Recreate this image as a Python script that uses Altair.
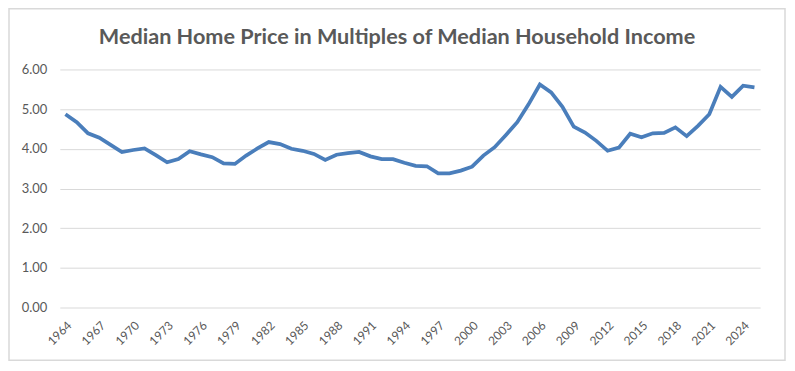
import altair as alt
import pandas as pd

years = list(range(1964, 2026))
ratios = [4.87, 4.67, 4.39, 4.28, 4.10, 3.92, 3.97, 4.01, 3.84, 3.66,
          3.74, 3.94, 3.86, 3.79, 3.63, 3.62, 3.83, 4.01, 4.17, 4.12,
          4.00, 3.95, 3.87, 3.72, 3.85, 3.89, 3.92, 3.81, 3.74, 3.74,
          3.65, 3.57, 3.56, 3.38, 3.38, 3.45, 3.55, 3.83, 4.04, 4.35,
          4.67, 5.12, 5.62, 5.42, 5.06, 4.56, 4.41, 4.20, 3.95, 4.03,
          4.38, 4.29, 4.39, 4.40, 4.54, 4.32, 4.58, 4.87, 5.56, 5.31,
          5.59, 5.55]
tick_years = list(range(1964, 2026, 3))
y_ticks = [0, 1, 2, 3, 4, 5, 6]

df = pd.DataFrame({"year": years, "ratio": ratios})

W, H = 703, 239
FONT = "Lato"
GRAY = "#595959"

line = alt.Chart(df).mark_line(color="#4A7EBB", strokeWidth=3.75).encode(
    x=alt.X("year:O", title=None,
            axis=alt.Axis(values=tick_years, labelAngle=-45, labelFont=FONT,
                          labelFontSize=12, labelColor=GRAY, ticks=False,
                          domain=False, grid=False, labelPadding=12)),
    y=alt.Y("ratio:Q", title=None,
            scale=alt.Scale(domain=[0, 6], nice=False, zero=True),
            axis=alt.Axis(values=y_ticks, format=".2f", labelFont=FONT,
                          labelFontSize=13, labelColor=GRAY, ticks=False,
                          domain=False, grid=True, gridColor="#D9D9D9",
                          gridWidth=1, labelPadding=13)),
)

border = alt.Chart(pd.DataFrame({"a": [0]})).mark_rect(
    fill=None, stroke="#D9D9D9", strokeWidth=1.5
).encode(
    x=alt.value(-51), x2=alt.value(728),
    y=alt.value(-61), y2=alt.value(292),
)

chart = alt.layer(border, line).properties(
    width=W, height=H,
    title=alt.TitleParams(
        "Median Home Price in Multiples of Median Household Income",
        font=FONT, fontSize=21.7, fontWeight="bold", color=GRAY,
        anchor="middle", offset=22, dx=-13, dy=63,
    ),
    autosize=alt.AutoSizeParams(type="none"),
    padding={"left": 52, "top": 61, "right": 27, "bottom": 55},
).configure_view(stroke=None)

chart.save("out.html", embed_options={"renderer": "svg", "actions": False})
